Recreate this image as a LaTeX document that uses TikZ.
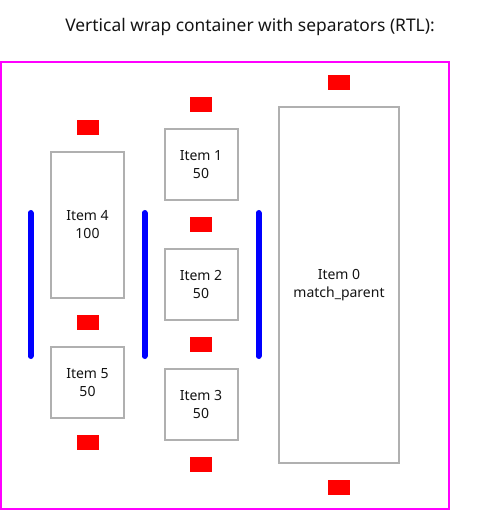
\documentclass[tikz,border=0pt]{standalone}
\usepackage{fontspec}
\setmainfont{Noto Sans}
\usetikzlibrary{positioning}
\definecolor{framemagenta}{RGB}{255,0,255}
\definecolor{boxgray}{RGB}{176,176,176}
\definecolor{textgray}{RGB}{20,20,20}

\begin{document}
\begin{tikzpicture}[
      x=1pt, y=-1pt,
      node distance=16pt,
      item/.style={draw=boxgray, line width=2pt, minimum width=73pt,
                   minimum height=71pt, inner sep=0pt, align=center,
                   text=textgray, font=\fontsize{14}{18}\selectfont},
      marker/.style={fill=red, minimum width=22pt, minimum height=15pt,
                     inner sep=0pt, outer sep=0pt},
      sep/.style={draw=blue, line width=6pt, line cap=round}
  ]
    \useasboundingbox (0,0) rectangle (480,510);
    \node[font=\fontsize{17.4}{21}\selectfont, text=textgray] (title) at (250,27)
         {Vertical wrap container with separators (RTL):};

    % Container
    \draw[framemagenta, line width=2pt] (1,62) rectangle (449,509);

    % Column with item 0
    \node[item, minimum width=120pt, minimum height=356pt] (item0) at (339,285)
         {Item 0\\match\_parent};
    \node[marker, above=of item0] (mk0a) {};
    \node[marker, below=of item0] (mk0b) {};

    % Column with items 1-3
    \node[item] (item1) at (201,164.5) {Item 1\\50};
    \node[marker, above=of item1] (mk1a) {};
    \node[marker, below=of item1] (mk1b) {};
    \node[item,   below=of mk1b]  (item2) {Item 2\\50};
    \node[marker, below=of item2] (mk2b) {};
    \node[item,   below=of mk2b]  (item3) {Item 3\\50};
    \node[marker, below=of item3] (mk3b) {};

    % Column with items 4-5
    \node[item, minimum height=146pt] (item4) at (87.5,225) {Item 4\\100};
    \node[marker, above=of item4] (mk4a) {};
    \node[marker, below=of item4] (mk4b) {};
    \node[item,   below=of mk4b]  (item5) {Item 5\\50};
    \node[marker, below=of item5] (mk5b) {};

    % Separators
    \draw[sep] (30.5,213)  -- (30.5,356);
    \draw[sep] (144.5,213) -- (144.5,356);
    \draw[sep] (258.5,213) -- (258.5,356);
  \end{tikzpicture}
\end{document}
